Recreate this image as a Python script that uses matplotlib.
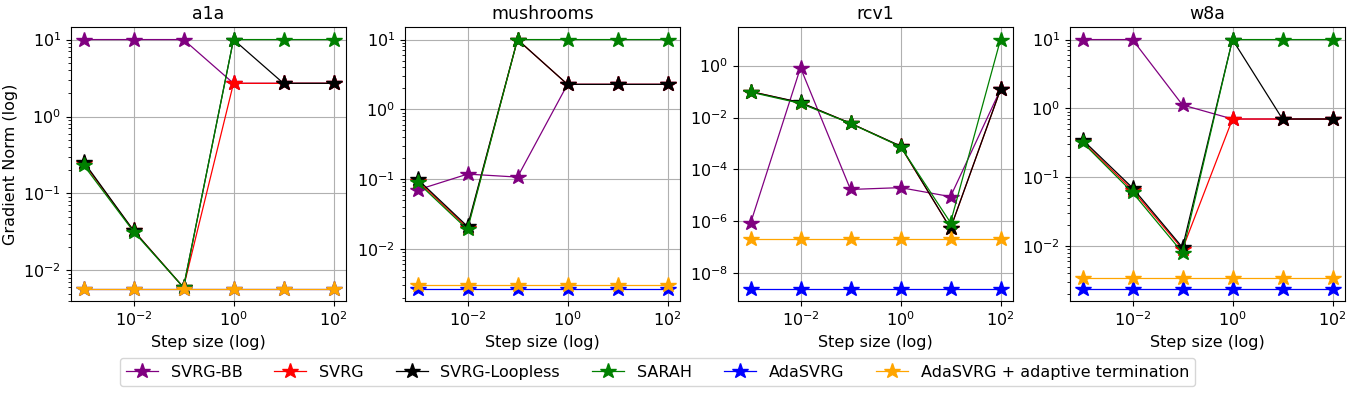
import numpy as np
import matplotlib
matplotlib.use('Agg')
import matplotlib.pyplot as plt

step_sizes = [1e-3, 1e-2, 1e-1, 1e0, 1e1, 1e2]
datasets = ['a1a', 'mushrooms', 'rcv1', 'w8a']
methods = ['SVRG-BB', 'SVRG', 'SVRG-Loopless', 'SARAH', 'AdaSVRG',
           'AdaSVRG + adaptive termination']
colors = ['purple', 'red', 'black', 'green', 'blue', 'orange']

# gradient norm at end of training, per dataset, per method
a1a = {
    'SVRG-BB': [10, 10, 10, 2.7, 2.7, 2.7],
    'SVRG': [0.25, 0.033, 0.006, 2.7, 2.7, 2.7],
    'SVRG-Loopless': [0.26, 0.033, 0.006, 10, 2.7, 2.7],
    'SARAH': [0.235, 0.032, 0.006, 10, 10, 10],
    'AdaSVRG': [0.0058] * 6,
    'AdaSVRG + adaptive termination': [0.0058] * 6,
}
mushrooms = {
    'SVRG-BB': [0.07, 0.118, 0.107, 2.28, 2.28, 2.28],
    'SVRG': [0.095, 0.02, 10, 2.28, 2.28, 2.28],
    'SVRG-Loopless': [0.1, 0.021, 10, 2.28, 2.28, 2.28],
    'SARAH': [0.09, 0.019, 10, 10, 10, 10],
    'AdaSVRG': [0.0027] * 6,
    'AdaSVRG + adaptive termination': [0.003] * 6,
}
rcv1 = {
    'SVRG-BB': [8.4e-7, 0.83, 1.7e-5, 2.0e-5, 9e-6, 0.12],
    'SVRG': [0.1, 0.037, 0.006, 7.8e-4, 5.4e-7, 0.12],
    'SVRG-Loopless': [0.1, 0.038, 0.006, 8e-4, 5.4e-7, 0.12],
    'SARAH': [0.095, 0.035, 0.0059, 7.6e-4, 9e-7, 10],
    'AdaSVRG': [2.6e-9] * 6,
    'AdaSVRG + adaptive termination': [2.2e-7] * 6,
}
w8a = {
    'SVRG-BB': [10, 10, 1.12, 0.7, 0.7, 0.7],
    'SVRG': [0.33, 0.065, 0.009, 0.7, 0.7, 0.7],
    'SVRG-Loopless': [0.35, 0.07, 0.0095, 10, 0.7, 0.7],
    'SARAH': [0.32, 0.06, 0.008, 10, 10, 10],
    'AdaSVRG': [0.0024] * 6,
    'AdaSVRG + adaptive termination': [0.0034] * 6,
}
results = [a1a, mushrooms, rcv1, w8a]

fs = 11.5
plt.rcParams['font.size'] = fs

fig = plt.figure(figsize=(13.54, 3.93), dpi=100)
lefts = [71, 405, 738, 1070]
for k, (name, res) in enumerate(zip(datasets, results)):
    ax = fig.add_axes([lefts[k] / 1354, 0.234, 275 / 1354, 0.697])
    for m, c in zip(methods, colors):
        ax.plot(step_sizes, res[m], color=c, marker='*', markersize=11.5,
                linewidth=0.9, label=m)
    ax.set_xscale('log')
    ax.set_yscale('log')
    ax.grid(True)
    ax.set_title(name, fontsize=12.5)
    ax.set_xlabel('Step size (log)', fontsize=fs)
    if k == 0:
        ax.set_ylabel('Gradient Norm (log)', fontsize=fs)
    ax.tick_params(labelsize=fs)

handles, labels = ax.get_legend_handles_labels()
fig.legend(handles, labels, loc='center', ncol=6, fontsize=fs,
           bbox_to_anchor=(0.4856, 0.053))

fig.savefig('out.png', dpi=100)
